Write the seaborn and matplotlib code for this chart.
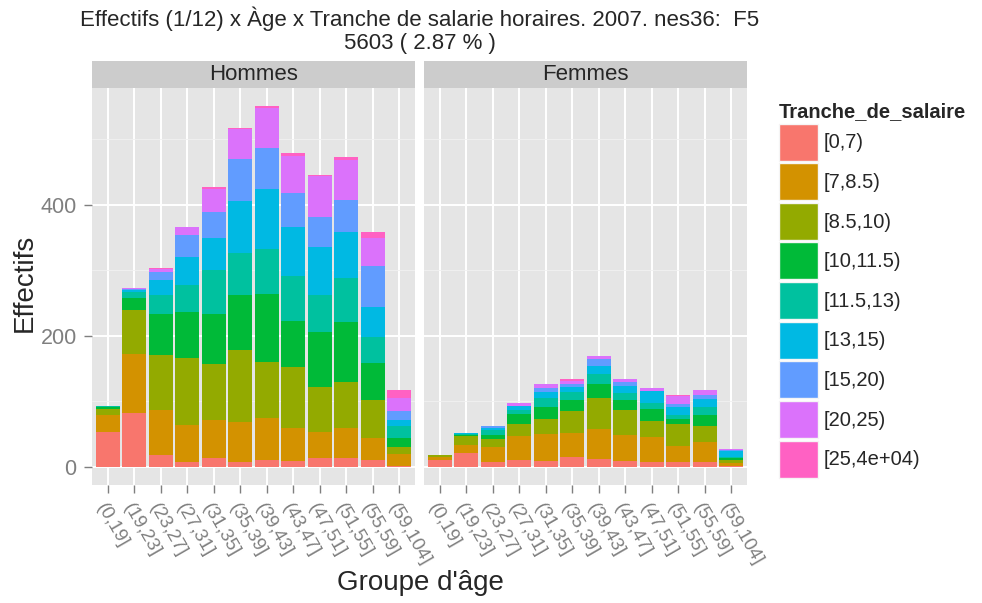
import numpy as np
import pandas as pd
import seaborn as sns
import matplotlib.pyplot as plt
from matplotlib.patches import Patch
from matplotlib.ticker import MultipleLocator

sns.set_style("white")
plt.rcParams['font.family'] = ['Liberation Sans', 'DejaVu Sans']

# --- data ---
ages = ["(0,19]", "(19,23]", "(23,27]", "(27,31]", "(31,35]", "(35,39]",
        "(39,43]", "(43,47]", "(47,51]", "(51,55]", "(55,59]", "(59,104]"]
tranches = ["[0,7)", "[7,8.5)", "[8.5,10)", "[10,11.5)", "[11.5,13)",
            "[13,15)", "[15,20)", "[20,25)", "[25,4e+04)"]
colors = ["#F8766D", "#D39200", "#93AA00", "#00BA38", "#00C19F",
          "#00B9E3", "#619CFF", "#DB72FB", "#FF61C3"]

# one row per salary band, one column per age group
hommes = [
    [54, 83, 19, 8, 14, 8, 11, 9, 13, 13, 10, 2],
    [26, 89, 68, 56, 58, 60, 64, 50, 40, 46, 35, 18],
    [9, 67, 84, 102, 85, 111, 85, 93, 69, 71, 57, 11],
    [3, 19, 63, 71, 77, 83, 104, 71, 84, 92, 56, 14],
    [1, 9, 29, 41, 67, 65, 69, 68, 57, 66, 40, 17],
    [0, 3, 23, 43, 49, 79, 92, 76, 73, 70, 47, 10],
    [0, 2, 11, 33, 39, 64, 62, 52, 46, 50, 62, 13],
    [0, 1, 5, 12, 35, 46, 61, 56, 62, 60, 42, 20],
    [0, 0, 2, 1, 4, 1, 3, 5, 2, 6, 10, 13],
]
femmes = [
    [10, 22, 7, 10, 9, 16, 12, 9, 7, 7, 7, 1],
    [6, 12, 23, 37, 42, 36, 46, 40, 39, 25, 31, 5],
    [2, 13, 12, 19, 23, 33, 47, 38, 24, 33, 24, 5],
    [1, 2, 7, 15, 18, 17, 22, 15, 19, 8, 18, 3],
    [0, 2, 8, 6, 13, 12, 15, 11, 8, 6, 12, 2],
    [0, 1, 3, 6, 9, 8, 12, 10, 19, 12, 12, 9],
    [0, 0, 2, 0, 6, 5, 11, 6, 0, 5, 6, 1],
    [0, 0, 0, 4, 7, 5, 4, 6, 5, 12, 7, 2],
    [0, 0, 0, 0, 0, 2, 0, 0, 0, 2, 0, 0],
]
panels = ["Hommes", "Femmes"]

grey_txt = "#7F7F7F"
fig = plt.figure(figsize=(9.82, 6.03), dpi=100)

pw, ph = 323 / 982, 397 / 603
pb = 118 / 603
lefts = [92 / 982, 424 / 982]
for i, (name, data) in enumerate(zip(panels, [hommes, femmes])):
    ax = fig.add_axes([lefts[i], pb, pw, ph])
    ax.set_facecolor("#E5E5E5")
    cum = np.cumsum(np.array(data), axis=0)
    # draw cumulative totals top layer first so lower layers cover them
    for k in range(len(tranches) - 1, -1, -1):
        df = pd.DataFrame({"age": ages, "n": cum[k]})
        sns.barplot(data=df, x="age", y="n", order=ages, color=colors[k],
                    saturation=1, width=0.9, linewidth=0, edgecolor="none",
                    ax=ax, zorder=2)
    ax.set_xlim(-0.6, len(ages) - 0.4)
    ax.set_ylim(-27.5, 578.6)
    ax.yaxis.set_major_locator(MultipleLocator(200))
    ax.yaxis.set_minor_locator(MultipleLocator(100))
    ax.grid(True, which="major", color="white", lw=1.4, zorder=0)
    ax.grid(True, which="minor", axis="y", color="#F2F2F2", lw=0.6, zorder=0)
    ax.set_axisbelow(True)
    for s in ax.spines.values():
        s.set_visible(False)
    ax.set_xlabel("")
    ax.set_ylabel("")
    ax.tick_params(axis="y", which="major", length=6, color=grey_txt,
                   labelcolor=grey_txt, labelsize=15.5, width=1, direction="out",
                   left=(i == 0), pad=5)
    ax.tick_params(axis="x", which="major", length=6, color=grey_txt,
                   labelcolor=grey_txt, labelsize=13.5, width=1, direction="out",
                   bottom=True, pad=5)
    ax.tick_params(which="minor", length=0)
    ax.set_xticks(range(len(ages)))
    ax.set_xticklabels(ages, rotation=-60, ha="left", va="top",
                       rotation_mode="anchor")
    if i == 1:
        ax.set_yticklabels([])
    # strip
    strip = fig.add_axes([lefts[i], (603 - 88) / 603, pw, 27 / 603])
    strip.set_facecolor("#CCCCCC")
    strip.set_xticks([])
    strip.set_yticks([])
    for s in strip.spines.values():
        s.set_visible(False)
    strip.text(0.5, 0.5, name, ha="center", va="center", fontsize=16)

fig.text(420 / 982, 1 - 19 / 603,
         "Effectifs (1/12) x Àge x Tranche de salarie horaires. 2007. nes36:  F5",
         ha="center", va="center", fontsize=16)
fig.text(420 / 982, 1 - 44 / 603, "5603 ( 2.87 % )",
         ha="center", va="center", fontsize=16)
fig.text(420 / 982, 1 - 583 / 603, "Groupe d'âge", ha="center", va="center",
         fontsize=20)
fig.text(25 / 982, 1 - 283 / 603, "Effectifs", ha="center", va="center",
         rotation=90, fontsize=20)

handles = [Patch(facecolor=c, edgecolor="#F5F5F5", lw=1) for c in colors]
leg = fig.legend(handles, tranches, loc="upper left",
                 bbox_to_anchor=(779 / 982, 1 - 102 / 603), frameon=False,
                 title="Tranche_de_salaire", fontsize=14.5,
                 title_fontproperties={"weight": "bold", "size": 14.5},
                 handlelength=1.94, handleheight=2.45, labelspacing=0.13,
                 handletextpad=0.3, borderaxespad=0, borderpad=0)
leg._legend_box.align = "left"

fig.savefig("out.png", dpi=100)
